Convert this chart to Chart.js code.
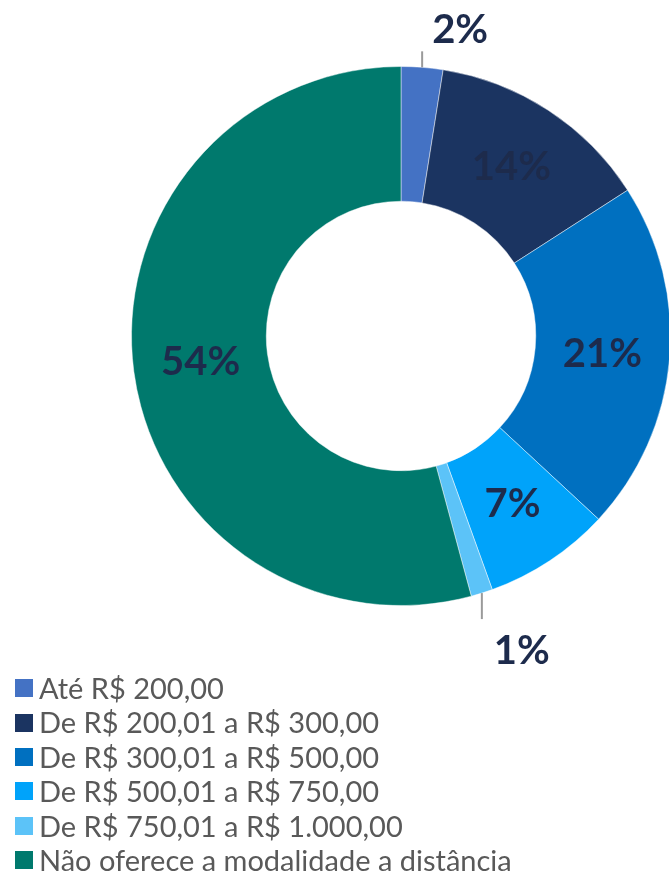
<!DOCTYPE html>
<html>
<head>
<meta charset="utf-8">
<script src="https://cdn.jsdelivr.net/npm/chart.js@4"></script>
<style>
  html, body { margin: 0; padding: 0; background: #fff; overflow: hidden; width: 669px; height: 879px; }
  #wrap { position: absolute; left: 0; top: 0; width: 802px; height: 672px; }
  #legend { position: absolute; left: 15px; top: 671px; font-family: Lato, sans-serif; font-size: 29px; color: #595959; white-space: nowrap; }
  #legend div { height: 34.4px; line-height: 34.4px; display: flex; align-items: center; }
  #legend span.box { width: 18px; height: 18px; margin-right: 6px; display: inline-block; }
</style>
</head>
<body>
<div id="wrap"><canvas id="chart"></canvas></div>
<div id="legend"></div>
<script>
const categories = [
    "Até R$ 200,00",
    "De R$ 200,01 a R$ 300,00",
    "De R$ 300,01 a R$ 500,00",
    "De R$ 500,01 a R$ 750,00",
    "De R$ 750,01 a R$ 1.000,00",
    "Não oferece a modalidade a distância"
];
// share of each slice, as measured off the ring
const shares = [2.5, 13.4, 21, 7.6, 1.3, 54.2];
// the text printed on each slice
const shareLabels = ["2%", "14%", "21%", "7%", "1%", "54%"];
const colors = ["#4472C4", "#1B3461", "#0070C0", "#00A3FA", "#5CC3F8", "#00796D"];

// small slices get their label outside with a short leader line
const outside = {
    0: { dir: -1, line: 16, dx: 38, dy: -37 },
    4: { dir: 1, line: 26, dx: 40, dy: 58 }
};

const sliceLabels = {
    id: "sliceLabels",
    afterDatasetsDraw(chart) {
        const ctx = chart.ctx;
        const arcs = chart.getDatasetMeta(0).data;
        ctx.save();
        ctx.font = "bold 40px Lato";
        ctx.fillStyle = "#1D2B4C";
        ctx.textAlign = "center";
        ctx.textBaseline = "middle";
        arcs.forEach((arc, i) => {
            const o = outside[i];
            if (!o) {
                const p = arc.tooltipPosition();
                ctx.fillText(shareLabels[i], p.x, p.y);
                return;
            }
            const mid = (arc.startAngle + arc.endAngle) / 2;
            const x = arc.x + Math.cos(mid) * arc.outerRadius;
            const y = arc.y + Math.sin(mid) * arc.outerRadius;
            ctx.strokeStyle = "#9a9a9a";
            ctx.lineWidth = 2;
            ctx.beginPath();
            ctx.moveTo(x, y);
            ctx.lineTo(x, y + o.dir * o.line);
            ctx.stroke();
            ctx.fillText(shareLabels[i], x + o.dx, y + o.dy);
        });
        ctx.restore();
    }
};

const chart = new Chart(document.getElementById("chart"), {
    type: "doughnut",
    data: {
        labels: categories,
        datasets: [{
            data: shares,
            backgroundColor: colors,
            borderColor: "rgba(255,255,255,0.45)",
            borderWidth: 1
        }]
    },
    options: {
        responsive: true,
        maintainAspectRatio: false,
        animation: false,
        cutout: "50%",
        layout: { padding: 66 },
        plugins: {
            legend: { display: false },
            tooltip: { enabled: false }
        }
    },
    plugins: [sliceLabels]
});

const legend = document.getElementById("legend");
categories.forEach((c, i) => {
    const row = document.createElement("div");
    row.innerHTML = '<span class="box" style="background:' + colors[i] + '"></span>' + c;
    legend.appendChild(row);
});
</script>
</body>
</html>
